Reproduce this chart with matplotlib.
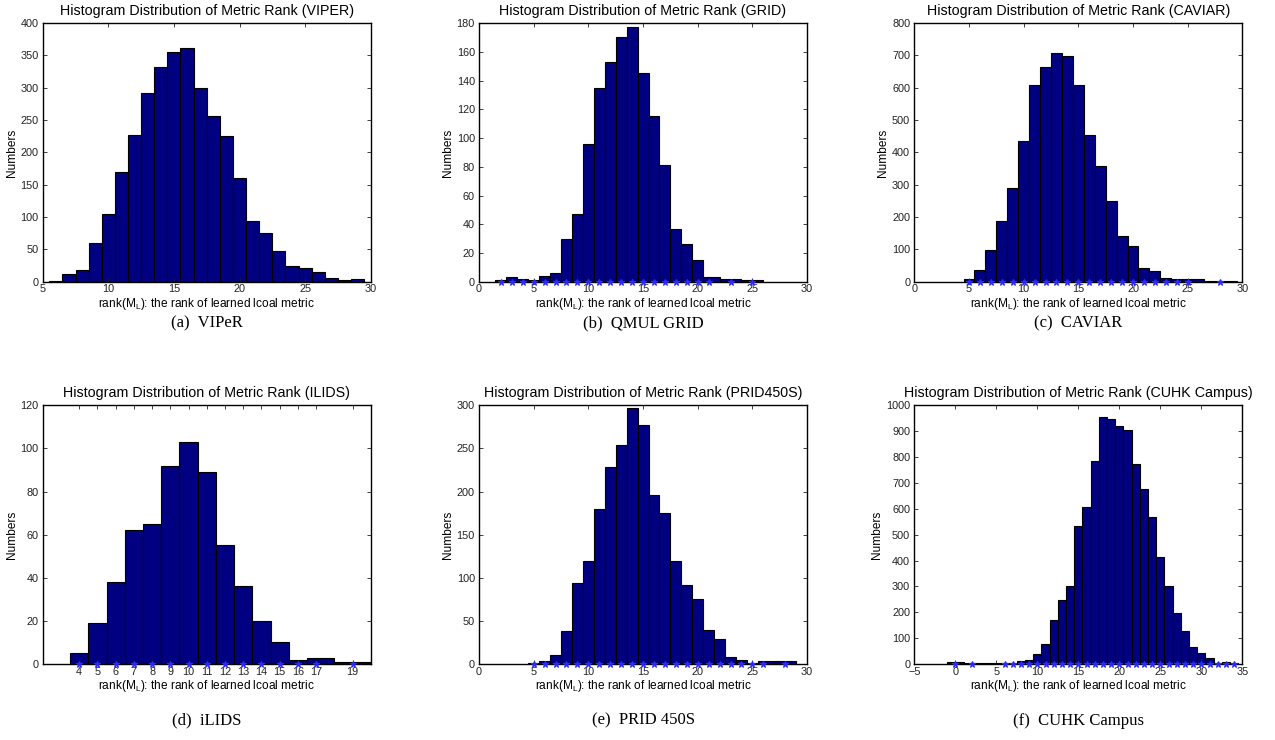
import numpy as np
import matplotlib.pyplot as plt

plt.rcParams['font.family'] = ['Liberation Sans', 'DejaVu Sans']
plt.rcParams['mathtext.fontset'] = 'custom'
plt.rcParams['mathtext.rm'] = 'Liberation Sans'

# bin centres (unique rank values) and counts
viper_x = list(range(6, 30))
viper_n = [1, 12, 18, 60, 104, 169, 227, 292, 332, 355, 361, 300, 257, 225,
           161, 94, 76, 47, 25, 21, 15, 5, 2, 4]

grid_x = list(range(2, 22)) + [23, 25]
grid_n = [1, 3, 2, 1, 4, 6, 30, 47, 96, 135, 153, 170, 177, 145, 115, 81,
          37, 26, 15, 3, 2, 1]

caviar_x = list(range(5, 26)) + [28]
caviar_n = [8, 35, 99, 187, 290, 435, 609, 663, 708, 699, 607, 453, 359,
            249, 140, 112, 42, 32, 11, 7, 7, 1]

ilids_x = list(range(4, 18)) + [19]
ilids_n = [5, 19, 38, 62, 65, 92, 103, 89, 55, 36, 20, 10, 2, 3, 1]

prid_x = list(range(5, 27)) + [28]
prid_n = [1, 3, 11, 38, 94, 120, 180, 229, 254, 297, 277, 196, 175, 119, 92,
          75, 39, 29, 8, 5, 1, 4, 3]

cuhk_x = [0, 2, 6] + list(range(7, 35))
cuhk_n = [6, 2, 2, 3, 10, 17, 40, 77, 170, 246, 301, 533, 606, 786, 955, 946,
          921, 906, 773, 676, 568, 415, 301, 197, 126, 64, 43, 22, 5, 7, 4]

titles = ['VIPER', 'GRID', 'CAVIAR', 'ILIDS', 'PRID450S', 'CUHK Campus']
captions = ['(a)  VIPeR', '(b)  QMUL GRID', '(c)  CAVIAR',
            '(d)  iLIDS', '(e)  PRID 450S', '(f)  CUHK Campus']
xs = [viper_x, grid_x, caviar_x, ilids_x, prid_x, cuhk_x]
ns = [viper_n, grid_n, caviar_n, ilids_n, prid_n, cuhk_n]
stars = [False, True, True, True, True, True]
xlims = [(5, 30), (0, 30), (0, 30), (2, 20), (0, 30), (-5, 35)]
ylims = [(0, 400, 50), (0, 180, 20), (0, 800, 100), (0, 120, 20),
         (0, 300, 50), (0, 1000, 100)]


def bin_edges(c):
    c = np.asarray(c, float)
    mid = (c[1:] + c[:-1]) / 2
    left = np.r_[2 * c[0] - mid[0], mid]
    right = np.r_[mid, 2 * c[-1] - mid[-1]]
    return left, right - left


fig = plt.figure(figsize=(12.75, 7.4), dpi=100)
lefts = [0.0335, 0.3757, 0.7171]
bottoms = [0.6193, 0.1027]
W, H = 0.2573, 0.3495

for i in range(6):
    r, c = divmod(i, 3)
    ax = fig.add_axes([lefts[c], bottoms[r], W, H])
    left, w = bin_edges(xs[i])
    ax.bar(left, ns[i], width=w, align='edge', color='#000080',
           edgecolor='black', linewidth=0.8)
    if stars[i]:
        ax.plot(xs[i], np.zeros(len(xs[i])), '*', color='#2a2aff', ms=5,
                mew=0.8, clip_on=False, zorder=5)
    ax.set_xlim(*xlims[i])
    y0, y1, st = ylims[i]
    ax.set_ylim(y0, y1)
    ax.set_yticks(np.arange(y0, y1 + 1, st))
    if i == 3:
        ax.set_xticks(xs[i])
    else:
        ax.set_xticks(np.arange(xlims[i][0], xlims[i][1] + 1, 5))
    ax.tick_params(direction='in', length=3, width=0.6, top=True, right=True,
                   labelsize=7.8, colors='#222222')
    ax.tick_params(axis='x', pad=2)
    ax.tick_params(axis='y', pad=3)
    for s in ax.spines.values():
        s.set_linewidth(1.0)
    ax.set_title('Histogram Distribution of Metric Rank (%s)' % titles[i],
                 fontsize=10.3, pad=6)
    ax.set_xlabel(r'rank(M$_{\mathrm{L}}$): the rank of learned lcoal metric',
                  fontsize=8.6, labelpad=1)
    ax.set_ylabel('Numbers', fontsize=8.6, labelpad=2)
    fig.text(lefts[c] + W / 2, [0.563, 0.026][r], captions[i],
             ha='center', va='center', fontsize=12,
             family='Liberation Serif')

plt.savefig('out.png', dpi=100)
